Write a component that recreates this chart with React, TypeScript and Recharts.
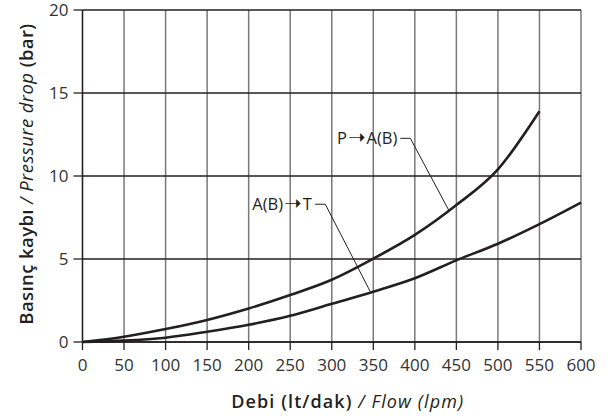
import React from "react";
import {
  LineChart,
  Line,
  XAxis,
  YAxis,
  CartesianGrid,
  ReferenceLine,
  ReferenceDot,
} from "recharts";

const flowTicks = [0, 50, 100, 150, 200, 250, 300, 350, 400, 450, 500, 550, 600];
const pressureTicks = [0, 5, 10, 15, 20];

const flowPA = [0, 50, 100, 150, 200, 250, 300, 350, 400, 450, 500, 550];
const dropPA = [0, 0.32, 0.78, 1.33, 2.02, 2.83, 3.75, 5.02, 6.45, 8.25, 10.4, 13.9];

const flowAT = [0, 50, 100, 150, 200, 250, 300, 350, 400, 450, 500, 550, 600];
const dropAT = [0, 0.08, 0.26, 0.62, 1.04, 1.58, 2.3, 3.03, 3.84, 4.92, 5.92, 7.1, 8.4];

const labelPA = ["P", "A(B)"];
const labelAT = ["A(B)", "T"];

const dataPA = flowPA.map((f, i) => ({ flow: f, drop: dropPA[i] }));
const dataAT = flowAT.map((f, i) => ({ flow: f, drop: dropAT[i] }));

const INK = "#231f20";
const FONT = "'Open Sans', 'Noto Sans', sans-serif";

const AnnotationText = (parts: string[]) => (props: any) => {
  const { cx, cy } = props;
  return (
    <text
      x={cx}
      y={cy}
      dy="0.36em"
      textAnchor="end"
      fontFamily={FONT}
      fontSize={16.5}
      fill={INK}
    >
      {parts[0]}
      <tspan fontFamily="'DejaVu Sans', sans-serif" fontSize={21} dx={1}>
        ➝
      </tspan>
      <tspan dx={1}>{parts[1]}</tspan>
    </text>
  );
};

const YTitle = (props: any) => {
  const vb = props.viewBox || {};
  const cy = vb.y + vb.height / 2 - 2;
  const x = 33;
  return (
    <text
      x={x}
      y={cy}
      transform={`rotate(-90, ${x}, ${cy})`}
      textAnchor="middle"
      fontFamily={FONT}
      fontSize={18.5}
      letterSpacing={0.4}
      fill={INK}
    >
      <tspan fontWeight={600}>Basınç kaybı </tspan>
      <tspan fontStyle="italic">/ Pressure drop </tspan>
      <tspan fontWeight={600}>(bar)</tspan>
    </text>
  );
};

const XTitle = (props: any) => {
  const vb = props.viewBox || {};
  const cx = vb.x + vb.width / 2 + 16;
  return (
    <text
      x={cx}
      y={408}
      textAnchor="middle"
      fontFamily={FONT}
      fontSize={18}
      letterSpacing={1.1}
      fill={INK}
    >
      <tspan fontWeight={600}>Debi (lt/dak) </tspan>
      <tspan fontStyle="italic">/ Flow (lpm)</tspan>
    </text>
  );
};

export default function App() {
  return (
    <div style={{ position: "absolute", left: 0, top: 0 }}>
      <LineChart
        width={610}
        height={420}
        margin={{ top: 10, right: 29, left: 0, bottom: 8 }}
      >
        <CartesianGrid
          horizontal={false}
          vertical={true}
          stroke="#7a7a7a"
          strokeWidth={1.5}
        />
        <CartesianGrid
          horizontal={true}
          vertical={false}
          stroke={INK}
          strokeWidth={1.3}
        />
        <XAxis
          dataKey="flow"
          type="number"
          domain={[0, 600]}
          ticks={flowTicks}
          allowDuplicatedCategory={false}
          interval={0}
          height={70}
          tickSize={8}
          tickMargin={9}
          axisLine={{ stroke: INK, strokeWidth: 1.3 }}
          tickLine={{ stroke: INK, strokeWidth: 1.3 }}
          tick={{ fill: "#333", fontSize: 17, fontFamily: FONT }}
          label={{ content: XTitle }}
        />
        <YAxis
          type="number"
          domain={[0, 20]}
          ticks={pressureTicks}
          interval={0}
          width={82.5}
          tickSize={9}
          tickMargin={5}
          axisLine={{ stroke: INK, strokeWidth: 1.3 }}
          tickLine={{ stroke: INK, strokeWidth: 1.3 }}
          tick={{ fill: "#333", fontSize: 17, fontFamily: FONT }}
          label={{ content: YTitle }}
        />
        <Line
          data={dataPA}
          dataKey="drop"
          type="monotone"
          stroke={INK}
          strokeWidth={2.6}
          dot={false}
          activeDot={false}
          isAnimationActive={false}
        />
        <Line
          data={dataAT}
          dataKey="drop"
          type="monotone"
          stroke={INK}
          strokeWidth={2.6}
          dot={false}
          activeDot={false}
          isAnimationActive={false}
        />
        <ReferenceLine
          segment={[
            { x: 382.5, y: 12.27 },
            { x: 394.6, y: 12.27 },
          ]}
          stroke={INK}
          strokeWidth={1}
        />
        <ReferenceLine
          segment={[
            { x: 394.6, y: 12.27 },
            { x: 440.7, y: 7.95 },
          ]}
          stroke={INK}
          strokeWidth={1}
        />
        <ReferenceLine
          segment={[
            { x: 280, y: 8.3 },
            { x: 292.2, y: 8.3 },
          ]}
          stroke={INK}
          strokeWidth={1}
        />
        <ReferenceLine
          segment={[
            { x: 292.2, y: 8.3 },
            { x: 346.4, y: 3.03 },
          ]}
          stroke={INK}
          strokeWidth={1}
        />
        <ReferenceDot
          x={379}
          y={12.27}
          r={0}
          shape={AnnotationText(labelPA)}
        />
        <ReferenceDot
          x={276}
          y={8.3}
          r={0}
          shape={AnnotationText(labelAT)}
        />
      </LineChart>
    </div>
  );
}
